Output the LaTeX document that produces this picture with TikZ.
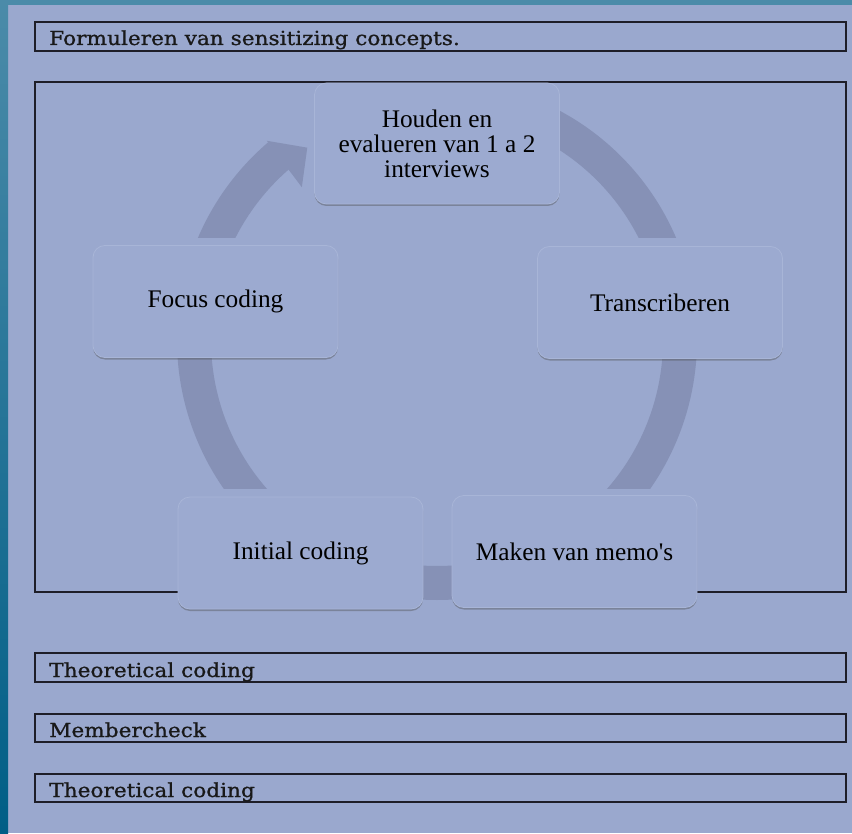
\documentclass[tikz,border=0pt]{standalone}
\usepackage{fontspec}
\setmainfont{Liberation Serif}
\newfontfamily\boxfont[FakeStretch=1.12,FakeBold=0.9]{DejaVu Serif}
\usepackage{tikz}
\usetikzlibrary{shadows,calc}

\definecolor{bgblue}{RGB}{154,168,206}
\definecolor{ringblue}{RGB}{134,145,182}
\definecolor{nodeblue}{RGB}{156,170,208}
\definecolor{edgeblue}{RGB}{168,181,215}
\definecolor{frametop}{RGB}{75,139,169}
\definecolor{framebot}{RGB}{0,94,134}
\definecolor{boxline}{RGB}{30,30,40}

\tikzset{
    stage/.style={rectangle, rounded corners=9pt, fill=nodeblue, draw=edgeblue, line width=0.6pt,
        minimum width=183.75pt, minimum height=84pt, align=center,
        font=\fontsize{19}{18.75}\selectfont,
        drop shadow={shadow xshift=0pt, shadow yshift=-1.5pt, opacity=0.4, fill=black!70}},
    band/.style={draw=boxline, line width=1.1pt},
    bandtext/.style={anchor=base west, inner sep=0pt, text=black!90, font=\boxfont\fontsize{14.5}{14.5}\selectfont},
    ring/.style={draw=ringblue, line width=25.5pt}
}

\begin{document}
\begin{tikzpicture}[x=0.75pt,y=0.75pt]
        \useasboundingbox (0,0) rectangle (852,833);
        \fill[bgblue] (0,0) rectangle (852,833);
        \shade[top color=frametop, bottom color=framebot] (0,0) rectangle (8,833);
        \fill[frametop] (0,828) rectangle (852,833);
        % labelled bands
        \draw[band] (35,811) rectangle (846,782);
        \node[bandtext] (sens) at (49,788) {Formuleren van sensitizing concepts.};
        \draw[band] (35,751) rectangle (846,241);
        \draw[band] (35,180) rectangle (846,151);
        \node[bandtext] (theo1) at (49,156) {Theoretical coding};
        \draw[band] (35,119) rectangle (846,91);
        \node[bandtext] (member) at (49,96) {Membercheck};
        \draw[band] (35,59) rectangle (846,31);
        \node[bandtext] (theo2) at (49,36) {Theoretical coding};
        % cycle arrows, cut flat where they meet the stages
        \coordinate (ring) at (437,493);
        \begin{scope}
            \clip (437,595) rectangle (852,833);
            \draw[ring] (ring) ++(70:243) arc (70:10:243);
        \end{scope}
        \begin{scope}
            \clip (437,345) rectangle (852,476);
            \draw[ring] (ring) ++(15:243) arc (15:-50:243);
        \end{scope}
        \draw[ring] (ring) ++(-62:243) arc (-62:-118:243);
        \begin{scope}
            \clip (0,345) rectangle (437,476);
            \draw[ring] (ring) ++(230:243) arc (230:165:243);
        \end{scope}
        \begin{scope}
            \clip (0,595) rectangle (437,833);
            \draw[ring] (ring) ++(170:243) arc (170:130.5:243);
        \end{scope}
        \fill[ringblue] ($(ring)+(130.5:262)$) -- ($(ring)+(124:232)$) -- ($(ring)+(131.5:204)$) -- cycle;
        % stages
        \node[stage, minimum height=90.75pt] (houden) at (437,689.5) {Houden en\\evalueren van 1 a 2\\interviews};
        \node[stage] (trans) at (660,530.5) {Transcriberen};
        \node[stage] (maken) at (574.5,281.5) {Maken van memo\textquotesingle s};
        \node[stage] (initial) at (300.5,280) {Initial coding};
        \node[stage] (focus) at (215.5,531.5) {Focus coding};
\end{tikzpicture}
\end{document}
